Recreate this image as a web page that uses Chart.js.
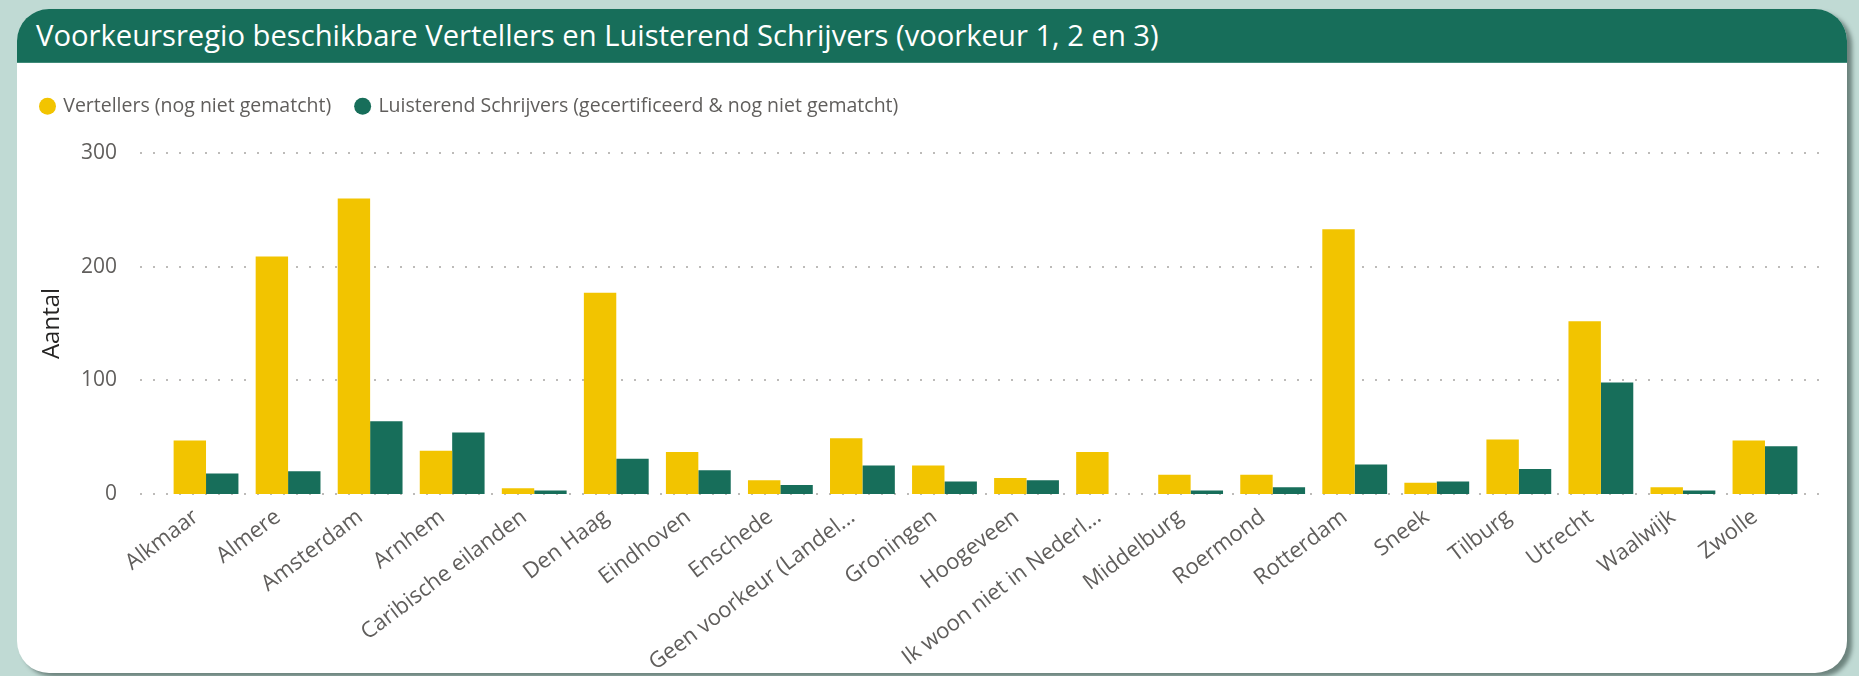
<!DOCTYPE html>
<html>
<head>
<meta charset="utf-8">
<script src="https://cdn.jsdelivr.net/npm/chart.js@4/dist/chart.umd.min.js"></script>
<style>
    html, body { margin: 0; padding: 0; }
    body { width: 1859px; height: 676px; background: #c0dad4; position: relative; overflow: hidden; font-family: 'Open Sans', sans-serif; }
    .card { position: absolute; left: 17px; top: 9px; width: 1830px; height: 664px; background: #fff; border-radius: 32px; box-shadow: 5px 4px 4px rgba(40, 60, 55, 0.55); overflow: hidden; }
    .header { height: 53px; background: #176e5a; border-bottom: 1px solid #3f8a78; color: #fff; font-size: 29.2px; line-height: 52px; padding-left: 19px; white-space: nowrap; }
    #wrap { position: absolute; left: 16px; top: 63px; width: 1831px; height: 610px; }
</style>
</head>
<body>
<div class="card">
    <div class="header">Voorkeursregio beschikbare Vertellers en Luisterend Schrijvers (voorkeur 1, 2 en 3)</div>
</div>
<div id="wrap"><canvas id="chart"></canvas></div>
<script>
const regios = [
    'Alkmaar', 'Almere', 'Amsterdam', 'Arnhem', 'Caribische eilanden', 'Den Haag', 'Eindhoven',
    'Enschede', 'Geen voorkeur (Landel...', 'Groningen', 'Hoogeveen', 'Ik woon niet in Nederl...',
    'Middelburg', 'Roermond', 'Rotterdam', 'Sneek', 'Tilburg', 'Utrecht', 'Waalwijk', 'Zwolle'
];
const vertellers = [47, 209, 260, 38, 5, 177, 37, 12, 49, 25, 14, 37, 17, 17, 233, 10, 48, 152, 6, 47];
const schrijvers = [18, 20, 64, 54, 3, 31, 21, 8, 25, 11, 12, 0, 3, 6, 26, 11, 22, 98, 3, 42];
const y_ticks = [0, 100, 200, 300];

const GRAY = '#605e5c';

// dotted grid lines, a bit wider than the plot area like in Power BI
const dotted_grid = {
    id: 'dotted_grid',
    beforeDatasetsDraw(chart) {
        const { ctx, chartArea, scales } = chart;
        ctx.save();
        ctx.strokeStyle = '#bdbbb9';
        ctx.lineWidth = 2;
        ctx.setLineDash([2, 11]);
        y_ticks.forEach(v => {
            const y = Math.round(scales.y.getPixelForValue(v));
            ctx.beginPath();
            ctx.moveTo(chartArea.left - 25, y);
            ctx.lineTo(chartArea.right + 22, y);
            ctx.stroke();
        });
        ctx.restore();
    }
};

// extra room under the legend
const legend_space = {
    id: 'legend_space',
    beforeInit(chart) {
        const legend = chart.legend;
        if (!legend) return;
        const fit = legend.fit;
        legend.fit = function () {
            fit.call(this);
            this.height += 27;
        };
    }
};

const ctx = document.getElementById('chart').getContext('2d');
Chart.defaults.font.family = "'Open Sans', sans-serif";

new Chart(ctx, {
    type: 'bar',
    data: {
        labels: regios,
        datasets: [
            {
                label: 'Vertellers (nog niet gematcht)',
                data: vertellers,
                backgroundColor: '#f2c400',
                borderWidth: 0,
            },
            {
                label: 'Luisterend Schrijvers (gecertificeerd & nog niet gematcht)',
                data: schrijvers,
                backgroundColor: '#176e5a',
                borderWidth: 0,
            },
        ],
    },
    options: {
        responsive: true,
        maintainAspectRatio: false,
        animation: false,
        layout: { padding: { top: 8, right: 41, bottom: 0, left: 0 } },
        datasets: {
            bar: { categoryPercentage: 0.79, barPercentage: 1.0 },
        },
        scales: {
            x: {
                grid: { display: false },
                border: { display: false },
                ticks: {
                    color: GRAY,
                    font: { size: 22 },
                    minRotation: 37,
                    maxRotation: 37,
                    autoSkip: false,
                    padding: 2,
                    labelOffset: -10,
                },
                afterFit: s => { s.height = 179; },
            },
            y: {
                min: 0,
                max: 300,
                grid: { display: false },
                border: { display: false },
                ticks: {
                    stepSize: 100,
                    color: GRAY,
                    font: { size: 21 },
                    padding: 40,
                },
                title: {
                    display: true,
                    text: 'Aantal',
                    color: '#252423',
                    font: { size: 24 },
                    padding: { top: 22, bottom: 0 },
                },
                afterFit: s => { s.width = 149; },
            },
        },
        plugins: {
            legend: {
                display: true,
                position: 'top',
                align: 'start',
                labels: {
                    usePointStyle: true,
                    pointStyle: 'circle',
                    boxWidth: 12,
                    boxHeight: 12,
                    padding: 25.5,
                    color: GRAY,
                    font: { size: 19.5 },
                },
            },
            tooltip: { enabled: false },
        },
    },
    plugins: [dotted_grid, legend_space],
});
</script>
</body>
</html>
